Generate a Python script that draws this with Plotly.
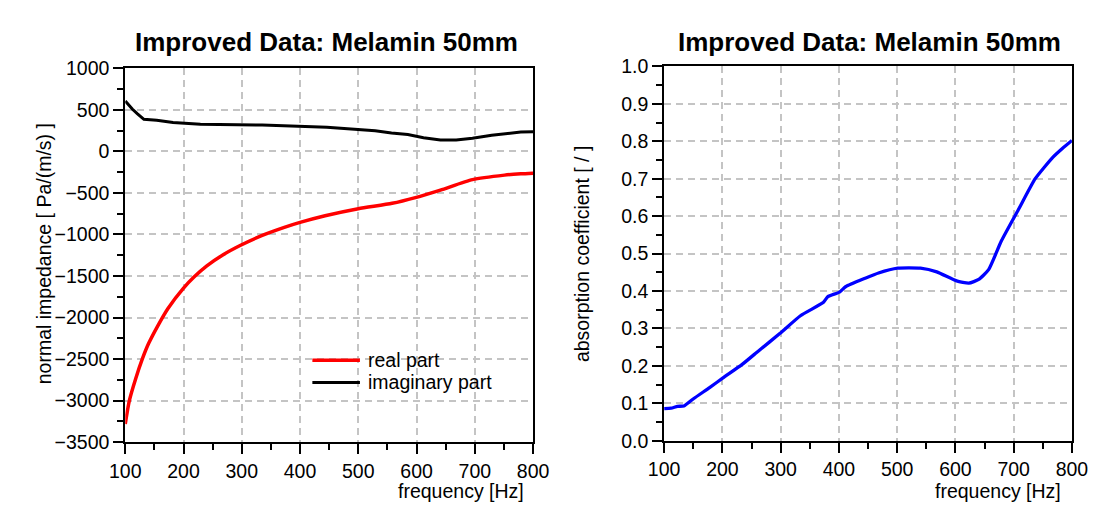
import plotly.graph_objects as go

# ---------------- data ----------------
freq_real = [100, 107, 118, 129, 140, 157, 173, 200, 218, 240, 268, 298, 334, 373, 400,
             443, 500, 558, 598, 641, 696, 751, 779, 800]
real_part = [-3280, -3000, -2733, -2504, -2313, -2084, -1893, -1645, -1512, -1378, -1244,
             -1130, -1015, -915, -855, -775, -690, -625, -556, -466, -340, -286, -270, -262]

freq_imag = [100, 112, 121, 132, 154, 182, 229, 335, 446, 501, 529, 557, 585, 612, 641,
             668, 696, 729, 751, 779, 800]
imag_part = [605, 509, 452, 386, 375, 348, 325, 317, 291, 268, 248, 222, 202, 164, 138,
             138, 157, 195, 214, 233, 235]

freq_abs = [100, 112, 123, 134, 151, 178, 201, 234, 262, 299, 334, 373, 381, 401, 412,
            445, 468, 501, 540, 568, 602, 623, 640, 657, 679, 708, 737, 766, 784, 800]
absorption = [0.086, 0.087, 0.092, 0.093, 0.113, 0.142, 0.168, 0.204, 0.240, 0.287, 0.334,
              0.369, 0.385, 0.397, 0.412, 0.434, 0.448, 0.461, 0.461, 0.451, 0.427, 0.421,
              0.431, 0.457, 0.534, 0.617, 0.700, 0.755, 0.781, 0.802]

series_names = ["real part", "imaginary part"]
title_text = "Improved Data: Melamin 50mm"
x_title = "frequency [Hz]"
y_title_left = "normal impedance [ Pa/(m/s) ]"
y_title_right = "absorption coefficient [ / ]"

W, H = 1101, 505
FONT = "Liberation Sans, Arial, sans-serif"
FS = 19.5
RED, BLACK, BLUE = "#ff0000", "#000000", "#0000ff"


def px(x):
    return x / W


def py(y):
    return (H - y) / H


fig = go.Figure()
fig.add_trace(go.Scatter(x=freq_real, y=real_part, mode="lines", name=series_names[0],
                         line=dict(color=RED, width=3.5, shape="spline", smoothing=0.6),
                         xaxis="x", yaxis="y"))
fig.add_trace(go.Scatter(x=freq_imag, y=imag_part, mode="lines", name=series_names[1],
                         line=dict(color=BLACK, width=3), xaxis="x", yaxis="y"))
fig.add_trace(go.Scatter(x=freq_abs, y=absorption, mode="lines", name="absorption coefficient",
                         line=dict(color=BLUE, width=3.3, shape="spline", smoothing=0.5),
                         xaxis="x2", yaxis="y2"))

common = dict(
    showline=True, linewidth=2, linecolor="black", mirror=True,
    ticks="outside", ticklen=10, tickwidth=2, tickcolor="black",
    showgrid=True, gridcolor="#c4c4c4", gridwidth=1.5, griddash="7px,5px",
    zeroline=False,
    tickfont=dict(family=FONT, size=FS, color="black"),
)

xcommon = dict(common, range=[100, 800], dtick=100, tick0=100,
               minor=dict(ticks="outside", ticklen=6, tickwidth=2, tickcolor="black",
                          dtick=50, showgrid=False))

fig.update_layout(
    width=W, height=H, autosize=False,
    margin=dict(l=0, r=0, t=0, b=0),
    paper_bgcolor="white", plot_bgcolor="white",
    font=dict(family=FONT, size=FS, color="black"),
    showlegend=False,
    xaxis=dict(xcommon, domain=[px(104.3), px(524.3)], anchor="y"),
    yaxis=dict(common, domain=[py(442.5), py(51.5)], anchor="x",
               range=[-3500, 1000], dtick=500, tick0=0,
               minor=dict(ticks="outside", ticklen=6, tickwidth=2, tickcolor="black",
                          dtick=250, showgrid=False)),
    xaxis2=dict(xcommon, domain=[px(659.3), px(1079.3)], anchor="y2"),
    yaxis2=dict(common, domain=[py(441), py(49.5)], anchor="x2",
                range=[0, 1.0], dtick=0.1, tick0=0, tickformat=".1f",
                minor=dict(ticks="outside", ticklen=6, tickwidth=2, tickcolor="black",
                           dtick=0.05, showgrid=False)),
)

annotations = [
    dict(text="<b>%s</b>" % title_text, x=px(312), y=py(24), xref="paper", yref="paper",
         xanchor="center", yanchor="middle", showarrow=False,
         font=dict(family=FONT, size=26, color="black")),
    dict(text="<b>%s</b>" % title_text, x=px(871), y=py(24), xref="paper", yref="paper",
         xanchor="center", yanchor="middle", showarrow=False,
         font=dict(family=FONT, size=26, color="black")),
    dict(text=x_title, x=px(517), y=py(493), xref="paper", yref="paper",
         xanchor="right", yanchor="middle", showarrow=False,
         font=dict(family=FONT, size=FS, color="black")),
    dict(text=x_title, x=px(1070), y=py(493), xref="paper", yref="paper",
         xanchor="right", yanchor="middle", showarrow=False,
         font=dict(family=FONT, size=FS, color="black")),
    dict(text=y_title_left, x=px(20.6), y=py(246), xref="paper", yref="paper",
         xanchor="center", yanchor="middle", showarrow=False, textangle=-90,
         font=dict(family=FONT, size=FS, color="black")),
    dict(text=y_title_right, x=px(574.5), y=py(246), xref="paper", yref="paper",
         xanchor="center", yanchor="middle", showarrow=False, textangle=-90,
         font=dict(family=FONT, size=FS, color="black")),
]

# legend drawn inside the left panel
shapes = []
for name, color, width, ypos in [(series_names[0], RED, 3.5, 356.7),
                                  (series_names[1], BLACK, 3, 380.0)]:
    shapes.append(dict(type="line", xref="paper", yref="paper",
                       x0=px(297), x1=px(346), y0=py(ypos), y1=py(ypos),
                       line=dict(color=color, width=width)))
    annotations.append(dict(text=name, x=px(352), y=py(ypos), xref="paper", yref="paper",
                            xanchor="left", yanchor="middle", showarrow=False,
                            font=dict(family=FONT, size=FS, color="black")))

fig.update_layout(annotations=annotations, shapes=shapes)

fig.write_html("out.html")
